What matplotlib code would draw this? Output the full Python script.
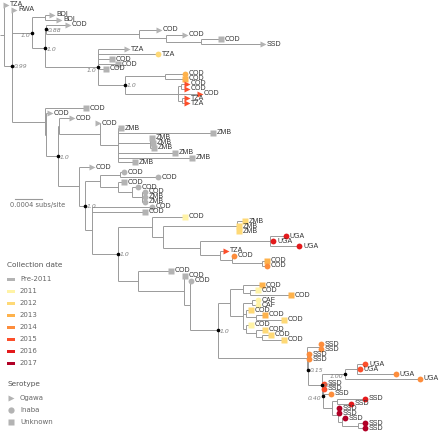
import matplotlib.pyplot as plt

# ---- tree data -------------------------------------------------------------
# internal nodes (depth in px-like units; 27 units = 0.0004 subs/site)
node_names = ['root', 'N1', 'A', 'P', 'R', 'Q', 'S', 'S2', 'S3', 'T', 'V', 'W', 'X', 'X1', 'X2',
              'L', 'L2', 'M', 'Mt', 'Nn', 'Z', 'Z2', 'Mb', 'Q1', 'P1', 'P1a', 'P1b', 'P1c', 'P1d',
              'R1', 'V1', 'U', 'U2', 'Zg', 'U3', 'Ug', 'Tg', 'N5', 'N6', 'J', 'J1', 'J2', 'K', 'K1',
              'H', 'H1', 'G', 'G1', 'G2', 'G2a', 'G3', 'G3a', 'G3b', 'SA', 'Sn1', 'S015', 'S098',
              'S100', 'Su1', 'S040', 'Sd', 'Sd1', 'Sd2', 'Sd3', 'Sd4']
node_parents = [None, 'root', 'N1', 'A', 'A', 'R', 'Q', 'S', 'S2', 'R', 'T', 'V', 'V', 'X', 'X',
                'N1', 'L', 'L2', 'M', 'Mt', 'Nn', 'Z', 'M', 'Mb', 'Q1', 'P1', 'P1', 'P1b', 'P1c',
                'Q1', 'R1', 'V1', 'U', 'U2', 'U2', 'U3', 'U3', 'Tg', 'N5', 'V1', 'J', 'J1', 'J2', 'K',
                'K1', 'H', 'K1', 'G', 'G', 'G2', 'G', 'G3', 'G3a', 'K', 'SA', 'SA', 'S015',
                'S098', 'S100', 'S098', 'S040', 'Sd', 'Sd', 'Sd2', 'Sd3']
node_depths = [4, 12, 32, 45, 45, 46, 139, 166, 201, 98, 125, 165, 178, 181, 182,
               45, 46, 58, 59, 100, 118, 150, 79, 85, 100, 120, 118, 132, 142,
               92, 118, 152, 163, 237, 200, 270, 220, 232, 262, 138, 184, 190, 218, 230,
               243, 250, 243, 252, 246, 256, 246, 256, 262, 307, 320, 308, 322,
               345, 357, 323, 332, 337, 338, 342, 358]
node_support = {'N1': '0.99', 'A': '1.0', 'R': '1.0', 'Q': '0.88', 'T': '1.0', 'V': '1.0',
                'M': '1.0', 'Q1': '1.0', 'V1': '1.0', 'K': '1.0', 'S015': '0.15',
                'S098': '0.98', 'S100': '1.00', 'S040': '0.40'}

# leaves, top to bottom
leaf_parent = ['root', 'N1', 'P', 'P', 'Q', 'S', 'S2', 'S3', 'S3',
               'T', 'T', 'T', 'T', 'T', 'W', 'W', 'X1', 'X1', 'X', 'X2', 'X2',
               'L', 'L2', 'Mt', 'Nn', 'Z', 'Z', 'Z2', 'Z2', 'Z2', 'Z', 'Z', 'Z',
               'Mb', 'P1a', 'P1a', 'P1b', 'P1c', 'P1d', 'P1d', 'P1d', 'R1', 'R1',
               'U', 'Zg', 'Zg', 'Zg', 'Ug', 'Ug', 'Ug', 'Tg', 'N5', 'N6', 'N6',
               'J', 'J1', 'J2', 'H', 'H1', 'H1', 'G1', 'G1', 'G2', 'G2a', 'G2a',
               'G3', 'G3a', 'G3b', 'G3b', 'Sn1', 'Sn1', 'S015', 'S015',
               'Su1', 'Su1', 'Su1', 'S100', 'S040', 'S040', 'S040',
               'Sd1', 'Sd1', 'Sd2', 'Sd2', 'Sd3', 'Sd4', 'Sd4']
leaf_depth = [6, 14, 52, 59, 68, 159, 185, 221, 263,
              127, 158, 112, 118, 106, 185, 185, 187, 187, 200, 187, 187,
              86, 50, 72, 98, 121, 213, 152, 153, 154, 175, 192, 135,
              92, 124, 158, 124, 138, 145, 145, 145, 152, 145,
              185, 245, 239, 239, 286, 273, 299, 226, 234, 267, 267,
              171, 185, 191, 262, 258, 291, 258, 258, 251, 265, 284,
              251, 265, 271, 284, 321, 321, 309, 309,
              365, 360, 396, 420, 324, 324, 331,
              365, 351, 339, 339, 345, 365, 365]
leaf_country = ['TZA', 'RWA', 'BDI', 'BDI', 'COD', 'COD', 'COD', 'COD', 'SSD',
                'TZA', 'TZA', 'COD', 'COD', 'COD', 'COD', 'COD', 'COD', 'COD', 'COD', 'TZA', 'TZA',
                'COD', 'COD', 'COD', 'COD', 'ZMB', 'ZMB', 'ZMB', 'ZMB', 'ZMB', 'ZMB', 'ZMB', 'ZMB',
                'COD', 'COD', 'COD', 'COD', 'COD', 'COD', 'ZMB', 'ZMB', 'COD', 'COD',
                'COD', 'ZMB', 'ZMB', 'ZMB', 'UGA', 'UGA', 'UGA', 'TZA', 'COD', 'COD', 'COD',
                'COD', 'COD', 'COD', 'COD', 'COD', 'COD', 'CAF', 'CAF', 'COD', 'COD', 'COD',
                'COD', 'COD', 'COD', 'COD', 'SSD', 'SSD', 'SSD', 'SSD',
                'UGA', 'UGA', 'UGA', 'UGA', 'SSD', 'SSD', 'SSD',
                'SSD', 'SSD', 'SSD', 'SSD', 'SSD', 'SSD', 'SSD']
leaf_year = ['Pre-2011'] * 9 + \
            ['Pre-2011', '2012', 'Pre-2011', 'Pre-2011', 'Pre-2011', '2013', '2013',
             '2015', '2015', '2015', '2015', '2015'] + \
            ['Pre-2011'] * 22 + \
            ['2011', '2012', '2012', '2012', '2016', '2016', '2016', '2015', '2014', '2013', '2014',
             'Pre-2011', 'Pre-2011', 'Pre-2011', '2013', '2011', '2013', '2011', '2011', '2012',
             '2013', '2012', '2011', '2012', '2012', '2012', '2014', '2014', '2014', '2014',
             '2015', '2015', '2014', '2014', '2015', '2015', '2014',
             '2016', '2016', '2017', '2017', '2017', '2017', '2017']
leaf_sero = ['O', 'O', 'O', 'O', 'O', 'O', 'O', 'U', 'O',
             'O', 'I', 'U', 'U', 'U', 'I', 'U', 'O', 'O', 'O', 'O', 'O',
             'U', 'O', 'O', 'O', 'U', 'U', 'U', 'U', 'U', 'U', 'U', 'U',
             'O', 'I', 'I', 'U', 'I', 'I', 'I', 'I', 'I', 'U',
             'U', 'U', 'U', 'U', 'I', 'I', 'I', 'O', 'I', 'U', 'I',
             'U', 'U', 'I', 'U', 'U', 'U', 'I', 'I', 'U', 'U', 'U',
             'U', 'U', 'U', 'U', 'I', 'I', 'I', 'I',
             'I', 'I', 'I', 'I', 'I', 'I', 'I',
             'I', 'I', 'I', 'I', 'I', 'I', 'I']

years = ['Pre-2011', '2011', '2012', '2013', '2014', '2015', '2016', '2017']
year_colors = ['#b3b3b3', '#fff3a6', '#fed976', '#feb24c', '#fd8d3c', '#fc4e2a', '#e31a1c', '#b10026']
serotypes = ['Ogawa', 'Inaba', 'Unknown']
sero_markers = {'O': '>', 'I': 'o', 'U': 's'}

# ---- layout ----------------------------------------------------------------
leaf_y = [5 + i * 4.92 for i in range(len(leaf_parent))]
depth = dict(zip(node_names, node_depths))
children = {n: [] for n in node_names}
for n, p in zip(node_names, node_parents):
    if p is not None:
        children[p].append(('node', n))
for i, p in enumerate(leaf_parent):
    children[p].append(('leaf', i))

node_y = {}


def get_y(kind, key):
    if kind == 'leaf':
        return leaf_y[key]
    if key not in node_y:
        ys = [get_y(k, c) for k, c in children[key]]
        node_y[key] = (min(ys) + max(ys)) / 2
    return node_y[key]


get_y('node', 'root')

fig = plt.figure(figsize=(4.4, 4.33), dpi=100)
ax = fig.add_axes([0, 0, 1, 1])
ax.set_xlim(0, 440)
ax.set_ylim(433, 0)
ax.axis('off')

line_kw = dict(color='#9a9a9a', lw=0.7, solid_capstyle='butt', zorder=1)
ax.plot([0, depth['root']], [node_y['root']] * 2, **line_kw)
for n in node_names:
    ys = [get_y(k, c) for k, c in children[n]]
    ax.plot([depth[n]] * 2, [min(ys), max(ys)], **line_kw)
    for k, c in children[n]:
        x1 = depth[c] if k == 'node' else leaf_depth[c]
        ax.plot([depth[n], x1], [get_y(k, c)] * 2, **line_kw)

# tips
ycol = dict(zip(years, year_colors))
for i in range(len(leaf_parent)):
    ax.plot(leaf_depth[i], leaf_y[i], marker=sero_markers[leaf_sero[i]], ms=4.2,
            color=ycol[leaf_year[i]], mec='none', zorder=3)
    ax.text(leaf_depth[i] + 4, leaf_y[i], leaf_country[i], fontsize=5.0, color='#333333',
            va='center', ha='left', family='Liberation Sans')

# supports
left_side = ['A', 'T', 'S040', 'S100']
for n, s in node_support.items():
    x, y = depth[n], node_y[n]
    ax.plot(x, y, 'o', ms=1.6, color='black', zorder=4)
    if n in left_side:
        ax.text(x - 2, y + 3, s, fontsize=4.4, style='italic', color='#808080', ha='right', va='center')
    else:
        ax.text(x + 2, y + 1, s, fontsize=4.4, style='italic', color='#808080', ha='left', va='center')

# scale bar
ax.plot([15, 42], [199, 199], color='#9a9a9a', lw=0.8)
ax.text(10, 205, '0.0004 subs/site', fontsize=4.8, color='#666666', va='center')

# legends
ax.text(7, 265, 'Collection date', fontsize=5.3, color='#555555', va='center')
for j, (yr, c) in enumerate(zip(years, year_colors)):
    yy = 279 + j * 12
    ax.add_patch(plt.Rectangle((7, yy - 1.5), 8, 3, color=c, lw=0))
    ax.text(20, yy, yr, fontsize=5.0, color='#666666', va='center')
ax.text(7, 384, 'Serotype', fontsize=5.3, color='#555555', va='center')
for j, (st, m) in enumerate(zip(serotypes, ['>', 'o', 's'])):
    yy = 398 + j * 12
    ax.plot(11, yy, marker=m, ms=4.5, color='#b3b3b3', mec='none')
    ax.text(20, yy, st, fontsize=5.0, color='#666666', va='center')

fig.savefig('out.png', dpi=100)
